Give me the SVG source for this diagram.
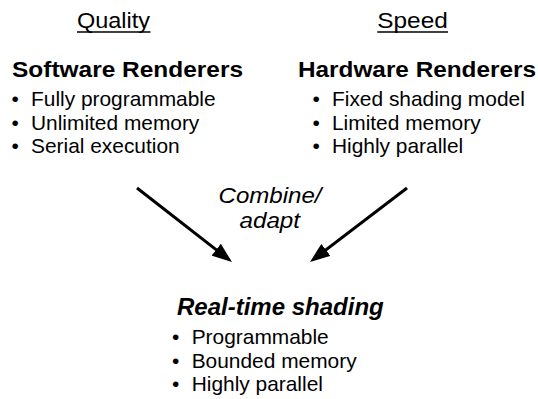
<svg xmlns="http://www.w3.org/2000/svg" width="538" height="399" viewBox="0 0 538 399">
<style>
text{font-family:"Liberation Sans",Arial,Helvetica,sans-serif;fill:#000}
.cat{font-size:22px}
.head{font-size:22px;font-weight:bold}
.item{font-size:20.9px}
.lbl{font-size:21.5px;font-style:italic}
.rt{font-size:24px;font-weight:bold;font-style:italic}
.ul{stroke:#000;stroke-width:1.5}
.arrow{stroke:#000;stroke-width:3;fill:none;marker-end:url(#ah)}
</style>
<defs>
<marker id="ah" markerUnits="userSpaceOnUse" markerWidth="20" markerHeight="15" refX="10" refY="7.5" orient="auto" viewBox="0 0 20 15">
<path d="M0,0 L20,7.5 L0,15 z" fill="#000"/>
</marker>
</defs>
<rect width="538" height="399" fill="#fff"/>
<g id="quality">
<text class="cat" x="77" y="28" textLength="73" lengthAdjust="spacingAndGlyphs">Quality</text>
<line class="ul" x1="77" y1="32" x2="150.5" y2="32"/>
</g>
<g id="speed">
<text class="cat" x="377.3" y="28" textLength="70.5" lengthAdjust="spacingAndGlyphs">Speed</text>
<line class="ul" x1="377.3" y1="32" x2="448" y2="32"/>
</g>
<g id="software">
<text class="head" x="12" y="77" textLength="231" lengthAdjust="spacingAndGlyphs">Software Renderers</text>
<text class="item" x="11.5" y="106">•</text><text class="item" x="31" y="106">Fully programmable</text>
<text class="item" x="11.5" y="129.5">•</text><text class="item" x="31" y="129.5">Unlimited memory</text>
<text class="item" x="11.5" y="153">•</text><text class="item" x="31" y="153">Serial execution</text>
</g>
<g id="hardware">
<text class="head" x="298" y="77" textLength="238" lengthAdjust="spacingAndGlyphs">Hardware Renderers</text>
<text class="item" x="312.5" y="106">•</text><text class="item" x="332" y="106">Fixed shading model</text>
<text class="item" x="312.5" y="129.5">•</text><text class="item" x="332" y="129.5">Limited memory</text>
<text class="item" x="312.5" y="153">•</text><text class="item" x="332" y="153">Highly parallel</text>
</g>
<g id="combine">
<text class="lbl" x="218.5" y="202.5" textLength="103" lengthAdjust="spacingAndGlyphs">Combine/</text>
<text class="lbl" x="239.5" y="227.5" textLength="60.5" lengthAdjust="spacingAndGlyphs">adapt</text>
</g>
<g id="realtime">
<text class="rt" x="177" y="315">Real-time shading</text>
<text class="item" x="172" y="344">•</text><text class="item" x="191.7" y="344">Programmable</text>
<text class="item" x="172" y="367.5">•</text><text class="item" x="191.7" y="367.5">Bounded memory</text>
<text class="item" x="172" y="391">•</text><text class="item" x="191.7" y="391">Highly parallel</text>
</g>
<g id="connectors">
<line class="arrow" x1="137" y1="188" x2="224.1" y2="255.85"/>
<line class="arrow" x1="407" y1="188" x2="317.95" y2="255.93"/>
</g>
</svg>
